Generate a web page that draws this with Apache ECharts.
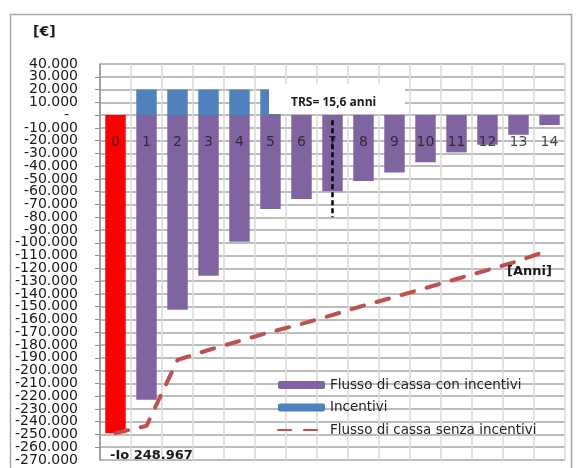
<!DOCTYPE html>
<html><head><meta charset="utf-8">
<script src="https://cdn.jsdelivr.net/npm/echarts@6/dist/echarts.min.js"></script>
<style>html,body{margin:0;padding:0;background:#fff}#c{width:576px;height:468px}</style>
</head><body><div id="c"></div>
<script>
// ---- data ----
const years = ['0','1','2','3','4','5','6','7','8','9','10','11','12','13','14'];
const flussoConIncentivi = [-248967,-222800,-152300,-125700,-99100,-73600,-65700,-59700,-51600,-44900,-37000,-29200,-23200,-15400,-7800];
const incentivi = [null,20000,20000,20000,20000,20000,null,null,null,null,null,null,null,null,null];
const flussoSenzaIncentivi = [-248967,-243300,-191700,-183900,-176800,-169800,-163500,-156500,-149100,-142400,-135400,-128300,-121300,-114200,-105600];
const seriesNames = ['Flusso di cassa con incentivi','Incentivi','Flusso di cassa senza incentivi'];
const trsCategory = '7';
const trsMarker = [-4000, -80000];
const yMin = -270000, yMax = 40000, yStep = 10000;
const categoryAxisCross = 0; // the category axis crosses the value axis at 0

const FONT = 'DejaVu Sans';
function fmt(v){
  if (v === 0) return '-  ';
  const s = Math.abs(v).toString().replace(/\B(?=(\d{3})+(?!\d))/g, '.');
  return (v < 0 ? '-' : '') + s;
}
const yLabelStyle = {fontFamily:FONT, fontSize:14, color:'#1a1a1a', margin:22, hideOverlap:false};

const chart = echarts.init(document.getElementById('c'), null, {renderer:'canvas'});
chart.setOption({
  animation:false,
  backgroundColor:'#fff',
  grid:{left:100, top:64, right:11, bottom:8, containLabel:false, outerBoundsMode:'none'},
  legend:{
    orient:'vertical', left:272, top:373, itemWidth:47, itemHeight:8, itemGap:8.5,
    data:[
      {name:seriesNames[0]},
      {name:seriesNames[1]},
      {name:seriesNames[2], itemStyle:{opacity:0}}
    ],
    textStyle:{fontFamily:FONT, fontSize:13.5, color:'#262626'}
  },
  xAxis:{
    type:'category', data:years, boundaryGap:true,
    axisLine:{show:false},
    axisTick:{show:false},
    axisLabel:{show:false},
    splitLine:{show:true, lineStyle:{color:'#d9d9d9', width:1.5}}
  },
  yAxis:[
    {
      type:'value', min:yMin, max:yMax, interval:yStep,
      axisLine:{show:true, lineStyle:{color:'#8c8c8c', width:1.5}},
      axisTick:{show:true, length:5, lineStyle:{color:'#8c8c8c'}},
      axisLabel:Object.assign({formatter:fmt, showMinLabel:false, showMaxLabel:false}, yLabelStyle),
      splitLine:{show:true, lineStyle:{color:'#a6a6a6', width:1.5}}
    },
    {
      type:'value', position:'left', min:yMin, max:yMax, interval:yStep,
      axisLine:{show:false}, axisTick:{show:false}, splitLine:{show:false},
      axisLabel:Object.assign({formatter:v => (v === yMin || v === yMax) ? fmt(v) : '',
        showMinLabel:true, showMaxLabel:true}, yLabelStyle)
    }
  ],
  series:[
    {
      name:seriesNames[0], type:'bar', stack:'cf', barCategoryGap:'34%',
      itemStyle:{color:'#8064A2'},
      data:flussoConIncentivi.map((v,i)=> i===0 ? {value:v, itemStyle:{color:'#FF0000'}} : v),
      z:2
    },
    {
      name:seriesNames[1], type:'bar', stack:'cf', barCategoryGap:'34%',
      itemStyle:{color:'#4F81BD'},
      data:incentivi, z:2
    },
    {
      name:seriesNames[2], type:'line', symbol:'none', showSymbol:false,
      lineStyle:{color:'#C0504D', width:4, type:[13,13], cap:'round'},
      itemStyle:{color:'#C0504D'},
      data:flussoSenzaIncentivi, z:6,
      markLine:{
        silent:true, symbol:['none','none'], label:{show:false},
        lineStyle:{color:'#000', width:2.5, type:[5,3]},
        data:[[{coord:[trsCategory, trsMarker[0]]},{coord:[trsCategory, trsMarker[1]]}]]
      }
    },
    {
      name:'_categoryLabels', type:'scatter', silent:true, z:5,
      symbolSize:1, itemStyle:{color:'rgba(0,0,0,0)'},
      data:years.map(y => [y, categoryAxisCross]),
      label:{show:true, position:'bottom', distance:20, formatter:p => years[p.dataIndex],
        fontFamily:FONT, fontSize:14, color:'#1a1a1a'},
      labelLayout:{hideOverlap:false}
    }
  ],
  graphic:[
    {type:'rect', shape:{x:10.5, y:14.5, width:561, height:470}, style:{fill:null, stroke:'#a6a6a6', lineWidth:1.5}, z:0, silent:true},
    {type:'text', left:33, top:25, style:{text:'[€]', font:'bold 14px "DejaVu Sans"', fill:'#1a1a1a'}, z:10},
    {type:'rect', shape:{x:269, y:84, width:136, height:30}, style:{fill:'#fff'}, z:10},
    {type:'text', left:291, top:97, style:{text:'TRS= 15,6 anni', font:'bold 12px "Open Sans"', fill:'#1a1a1a'}, z:11},
    {type:'text', left:507, top:265, style:{text:'[Anni]', font:'bold 13px "DejaVu Sans"', fill:'#1a1a1a'}, z:10},
    {type:'text', left:110, top:449, style:{text:'-Io 248.967', font:'bold 13px "DejaVu Sans"', fill:'#1a1a1a'}, z:10}
  ]
});
</script></body></html>
